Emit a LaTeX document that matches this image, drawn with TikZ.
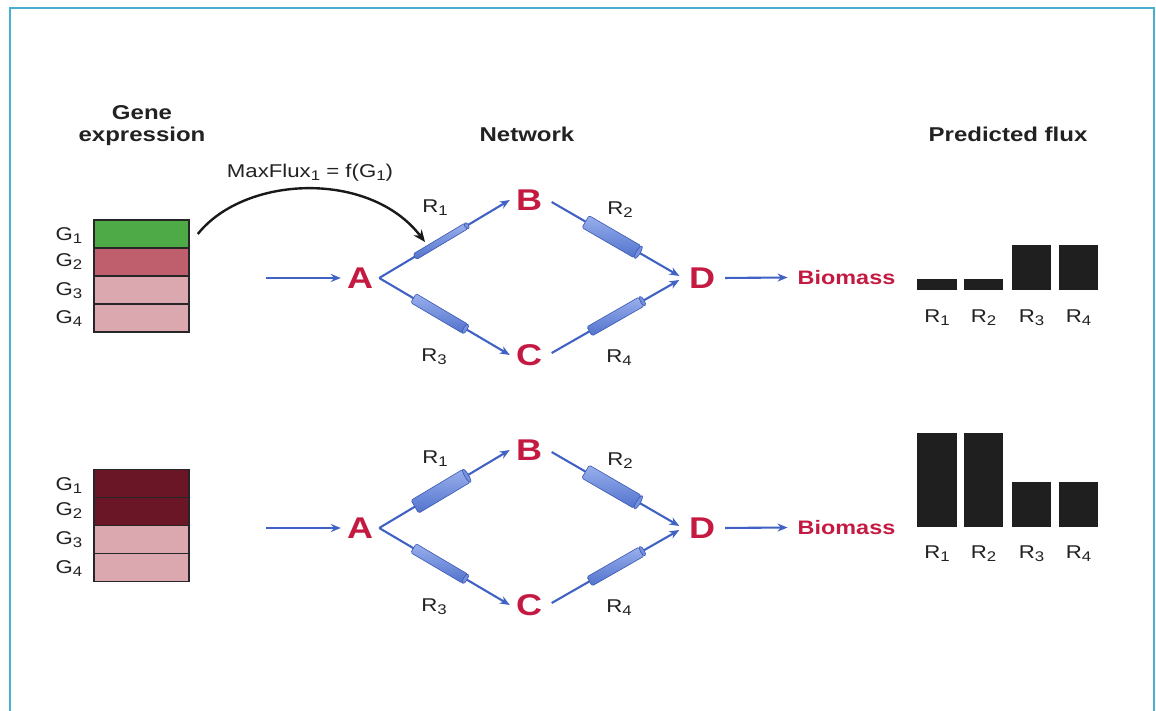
\documentclass[tikz,border=0pt]{standalone}
\usepackage{fontspec}
\setmainfont{Liberation Sans}[FakeStretch=1.2]
\usetikzlibrary{arrows.meta,shapes.geometric}

\definecolor{framecol}{HTML}{4AAED0}
\definecolor{netblue}{HTML}{4062C4}
\definecolor{metred}{HTML}{C41A42}
\definecolor{geneG}{HTML}{4DAA47}
\definecolor{geneM}{HTML}{BF5E6C}
\definecolor{geneP}{HTML}{DCA8B0}
\definecolor{geneD}{HTML}{6B1626}
\definecolor{cylhi}{HTML}{9AB0EC}
\definecolor{cylmid}{HTML}{7591DD}
\definecolor{cyllo}{HTML}{5273CC}
\definecolor{cyledge}{HTML}{3A58B4}
\definecolor{txt}{HTML}{222222}

% lowered, smaller subscript
\newcommand\lowsub[1]{\raisebox{-3pt}{\fontsize{14}{14}\selectfont#1}}

% metabolic network: #1 vertical offset, #2 name suffix, #3-#6 enzyme widths
\newcommand\metnet[6]{%
\begin{scope}[shift={(0,#1)}]
  \node[met] (A#2) at (360,278) {A};
  \node[met] (B#2) at (529,200) {B};
  \node[met] (C#2) at (529,355) {C};
  \node[met] (D#2) at (702,278) {D};
  \node[biom] (M#2) at (846.5,277.5) {Biomass};
  \coordinate (in#2) at (266,278);
  \draw[flow] (in#2) -- (A#2.west);
  \draw[flow, shorten <=4] (D#2.east) -- (M#2.west);
  \draw[flow] (A#2.east) -- (B#2.west)
     node[cyl, pos=0.47, minimum height=#3] (e1#2) {}
     node[cylend, pos=0.67, minimum height=#3] {};
  \draw[flow, shorten <=4, shorten >=4] (B#2.east) -- (D#2.west)
     node[cyl, pos=0.47, minimum height=#4] (e2#2) {}
     node[cylend, pos=0.67, minimum height=#4] {};
  \draw[flow] (A#2.east) -- (C#2.west)
     node[cyl, pos=0.46, minimum height=#5] (e3#2) {}
     node[cylend, pos=0.66, minimum height=#5] {};
  \draw[flow, shorten <=4, shorten >=4] (C#2.east) -- (D#2.west)
     node[cyl, pos=0.5, minimum height=#6] (e4#2) {}
     node[cylend, pos=0.7, minimum height=#6] {};
  \node[lab, anchor=base] at (435,213) {R\lowsub{1}};
  \node[lab, anchor=base] at (620,215) {R\lowsub{2}};
  \node[lab, anchor=base] at (434,361) {R\lowsub{3}};
  \node[lab, anchor=base] at (619,362) {R\lowsub{4}};
\end{scope}}

\begin{document}
\begin{tikzpicture}[x=1pt, y=-1pt,
  lab/.style={text=txt, font=\fontsize{18.5}{20}\selectfont, inner sep=0},
  head/.style={text=txt, font=\bfseries\fontsize{20}{23}\selectfont, align=center, inner sep=0},
  met/.style={text=metred, font=\bfseries\fontsize{30}{30}\selectfont, inner xsep=6, inner ysep=0},
  biom/.style={text=metred, font=\bfseries\fontsize{19.5}{20}\selectfont, inner xsep=10, inner ysep=0},
  flow/.style={draw=netblue, line width=2.1, -{Stealth[length=10,width=8]}},
  cyl/.style={sloped, rectangle, rounded corners=1.5, minimum width=60, inner sep=0,
    draw=cyledge, line width=0.6, top color=cylhi, bottom color=cyllo, middle color=cylmid},
  cylend/.style={sloped, ellipse, minimum width=4, inner sep=0, draw=cyledge, line width=0.6, fill=cylmid},
  gene/.style={rectangle, minimum width=95, minimum height=28, inner sep=0, draw=black!85, line width=1.6},
  bar/.style={rectangle, minimum width=39.5, inner sep=0, fill=black!88, anchor=south},
  infl/.style={draw=black!90, line width=2.4, -{Stealth[length=12,width=10]}}]

\useasboundingbox (0,0) rectangle (1156,711);
\fill[white] (0,0) rectangle (1156,711);
\draw[framecol, line width=2] (9.5,711) -- (9.5,8.5) -- (1154,8.5) -- (1154,711);

% column headings
\node[head] (hgene) at (142,126) {Gene\\[-1pt]expression};
\node[head, anchor=base] (hnet) at (527,142) {Network};
\node[head, anchor=base] (hflux) at (1008,142) {Predicted flux};

% gene expression, upper condition
\node[gene, fill=geneG] (g1t) at (141.5,234) {};
\node[gene, fill=geneM] (g2t) at (141.5,262) {};
\node[gene, fill=geneP] (g3t) at (141.5,290) {};
\node[gene, fill=geneP] (g4t) at (141.5,318) {};
\node[lab, anchor=base] at (69,241) {G\lowsub{1}};
\node[lab, anchor=base] at (69,267) {G\lowsub{2}};
\node[lab, anchor=base] at (69,295) {G\lowsub{3}};
\node[lab, anchor=base] at (69,323) {G\lowsub{4}};

% gene expression, lower condition
\node[gene, fill=geneD] (g1b) at (141.5,483.5) {};
\node[gene, fill=geneD] (g2b) at (141.5,511.5) {};
\node[gene, fill=geneP] (g3b) at (141.5,539.5) {};
\node[gene, fill=geneP] (g4b) at (141.5,567.5) {};
\node[lab, anchor=base] at (69,490) {G\lowsub{1}};
\node[lab, anchor=base] at (69,515) {G\lowsub{2}};
\node[lab, anchor=base] at (69,544) {G\lowsub{3}};
\node[lab, anchor=base] at (69,573) {G\lowsub{4}};

% networks (enzyme cylinders scaled by expression)
\metnet{0}{t}{6.5}{14}{10.5}{10.5}
\metnet{250}{b}{15}{15}{10.5}{10.5}

% expression constrains the maximal flux of R1
\coordinate (mfend) at (425,242);
\draw[infl] ([xshift=8]g1t.east) .. controls (245,175) and (370,170) .. (mfend);
\node[lab, anchor=base] (mflab) at (310,178) {MaxFlux\lowsub{1} = f(G\lowsub{1})};

% predicted fluxes, upper condition
\node[bar, minimum height=11] (f1t) at (937,290) {};
\node[bar, minimum height=11] (f2t) at (983.5,290) {};
\node[bar, minimum height=45] (f3t) at (1031.5,290) {};
\node[bar, minimum height=45] (f4t) at (1078.5,290) {};
\node[lab, anchor=base] at (937,322) {R\lowsub{1}};
\node[lab, anchor=base] at (983.5,322) {R\lowsub{2}};
\node[lab, anchor=base] at (1031.5,322) {R\lowsub{3}};
\node[lab, anchor=base] at (1078.5,322) {R\lowsub{4}};

% predicted fluxes, lower condition
\node[bar, minimum height=94] (f1b) at (937,527) {};
\node[bar, minimum height=94] (f2b) at (983.5,527) {};
\node[bar, minimum height=45] (f3b) at (1031.5,527) {};
\node[bar, minimum height=45] (f4b) at (1078.5,527) {};
\node[lab, anchor=base] at (937,558) {R\lowsub{1}};
\node[lab, anchor=base] at (983.5,558) {R\lowsub{2}};
\node[lab, anchor=base] at (1031.5,558) {R\lowsub{3}};
\node[lab, anchor=base] at (1078.5,558) {R\lowsub{4}};
\end{tikzpicture}
\end{document}
